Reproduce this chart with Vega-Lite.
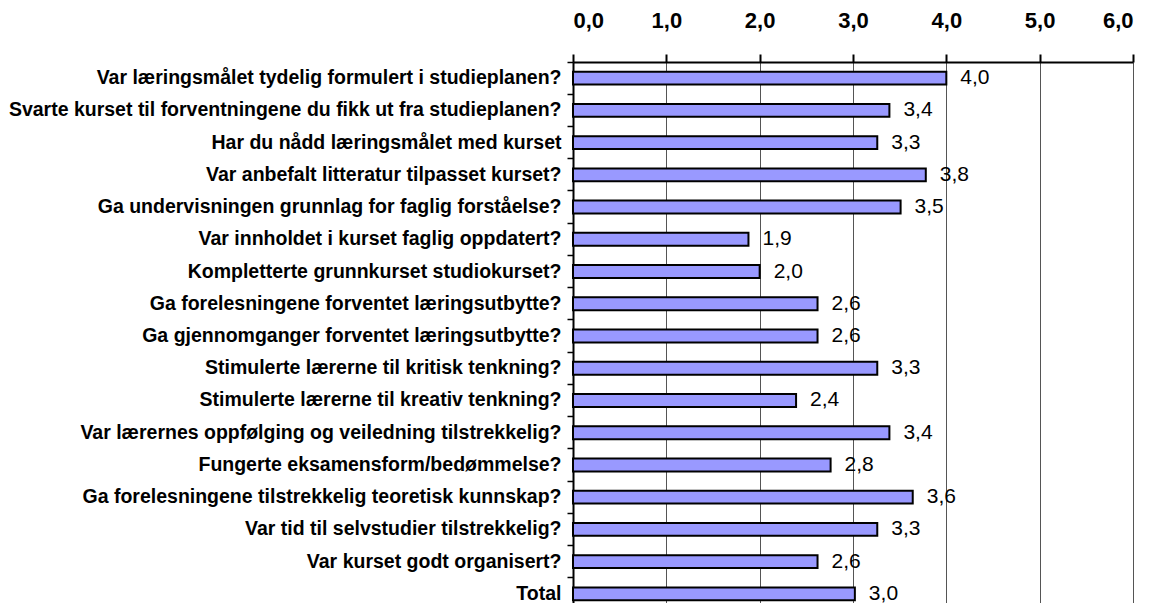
{
  "$schema": "https://vega.github.io/schema/vega-lite/v6.json",
  "autosize": "none",
  "padding": {"left": 573, "top": 62, "right": 27, "bottom": 0},
  "width": 560,
  "height": 548,
  "background": "white",
  "config": {
    "locale": {"number": {"decimal": ",", "thousands": " ", "grouping": [3], "currency": ["", " kr"]}},
    "view": {"stroke": null},
    "font": "Liberation Sans"
  },
  "data": {
    "values": [
      {"question": "Var læringsmålet tydelig formulert i studieplanen?", "score": 4.0},
      {"question": "Svarte kurset til forventningene du fikk ut fra studieplanen?", "score": 3.39},
      {"question": "Har du nådd læringsmålet med kurset", "score": 3.26},
      {"question": "Var anbefalt litteratur tilpasset kurset?", "score": 3.78},
      {"question": "Ga undervisningen grunnlag for faglig forståelse?", "score": 3.51},
      {"question": "Var innholdet i kurset faglig oppdatert?", "score": 1.88},
      {"question": "Kompletterte grunnkurset studiokurset?", "score": 2.0},
      {"question": "Ga forelesningene forventet læringsutbytte?", "score": 2.62},
      {"question": "Ga gjennomganger forventet læringsutbytte?", "score": 2.62},
      {"question": "Stimulerte lærerne til kritisk tenkning?", "score": 3.26},
      {"question": "Stimulerte lærerne til kreativ tenkning?", "score": 2.39},
      {"question": "Var lærernes oppfølging og veiledning tilstrekkelig?", "score": 3.39},
      {"question": "Fungerte eksamensform/bedømmelse?", "score": 2.76},
      {"question": "Ga forelesningene tilstrekkelig teoretisk kunnskap?", "score": 3.64},
      {"question": "Var tid til selvstudier tilstrekkelig?", "score": 3.26},
      {"question": "Var kurset godt organisert?", "score": 2.62},
      {"question": "Total", "score": 3.02}
    ]
  },
  "encoding": {
    "y": {
      "field": "question",
      "type": "nominal",
      "sort": null,
      "scale": {"paddingInner": 0, "paddingOuter": 0},
      "axis": {
        "title": null,
        "bandPosition": 0,
        "domainColor": "black",
        "domainWidth": 2,
        "tickColor": "black",
        "tickWidth": 1.5,
        "tickSize": 6,
        "labelFont": "Liberation Sans",
        "labelFontWeight": "bold",
        "labelFontSize": 19.5,
        "labelColor": "black",
        "labelPadding": 6,
        "labelLimit": 0
      }
    },
    "x": {
      "field": "score",
      "type": "quantitative",
      "scale": {"domain": [0, 6], "nice": false, "zero": true},
      "axis": {
        "orient": "top",
        "title": null,
        "values": [0, 1, 2, 3, 4, 5, 6],
        "format": ",.1f",
        "domainColor": "black",
        "domainWidth": 2,
        "tickColor": "black",
        "tickWidth": 2,
        "tickSize": 8,
        "grid": true,
        "gridColor": "#555555",
        "gridWidth": 1,
        "labelFont": "Liberation Sans",
        "labelFontWeight": "bold",
        "labelFontSize": 22,
        "labelColor": "black",
        "labelPadding": 22
      }
    }
  },
  "layer": [
    {
      "mark": {"type": "bar", "height": {"band": 0.4}, "fill": "#9999FF", "stroke": "black", "strokeWidth": 2}
    },
    {
      "mark": {"type": "text", "align": "left", "baseline": "middle", "dx": 14, "fontSize": 21, "font": "Liberation Sans", "color": "black"},
      "encoding": {"text": {"field": "score", "type": "quantitative", "format": ",.1f"}}
    }
  ]
}
